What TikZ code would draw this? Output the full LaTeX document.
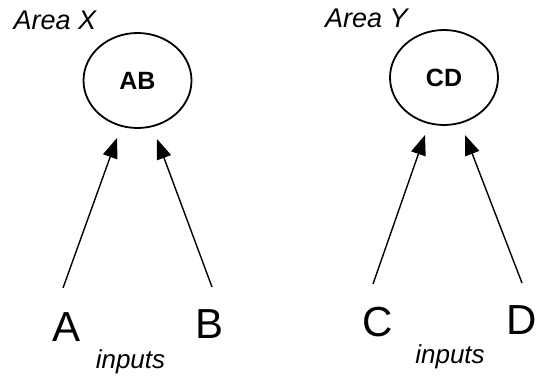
\documentclass[tikz,border=0pt]{standalone}
\usepackage{fontspec}
\setmainfont{Liberation Sans}
\usetikzlibrary{arrows.meta,shapes.geometric}
\begin{document}
\begin{tikzpicture}[x=1pt,y=-1pt,
  area/.style={draw,ellipse,line width=1.8pt,minimum width=108pt,minimum height=95pt,inner sep=0pt,font=\fontsize{25}{25}\selectfont\bfseries},
  heading/.style={font=\fontsize{27}{27}\selectfont\itshape,inner sep=0pt},
  inletter/.style={font=\fontsize{42}{42}\selectfont,inner sep=0pt},
  caption/.style={font=\fontsize{26}{26}\selectfont\itshape,inner sep=0pt},
  feed/.style={line width=1.4pt,-{Triangle[length=20pt,width=15pt]}}]
\useasboundingbox (0,0) rectangle (537,379);

% left area
\node[heading] (areaX) at (55,20) {Area X};
\node[area] (AB) at (137.5,80.5) {\raisebox{-7pt}{AB}};
\node[inletter] (A) at (67,327) {A};
\node[inletter] (B) at (210,324) {B};
\node[caption] (inX) at (130.5,362) {inputs};
\coordinate (aFoot) at (63,288);
\coordinate (aHead) at (117,138);
\coordinate (bFoot) at (212,287);
\coordinate (bHead) at (157,139);
\draw[feed] (aFoot) -- (aHead);
\draw[feed] (bFoot) -- (bHead);

% right area
\node[heading] (areaY) at (366.5,18) {Area Y};
\node[area] (CD) at (444,77.5) {\raisebox{-6.5pt}{CD}};
\node[inletter] (C) at (377.5,322) {C};
\node[inletter] (D) at (521.5,320) {D};
\node[caption] (inY) at (450,357) {inputs};
\coordinate (cFoot) at (373,284);
\coordinate (cHead) at (425,135);
\coordinate (dFoot) at (522,283);
\coordinate (dHead) at (465,135);
\draw[feed] (cFoot) -- (cHead);
\draw[feed] (dFoot) -- (dHead);
\end{tikzpicture}
\end{document}
